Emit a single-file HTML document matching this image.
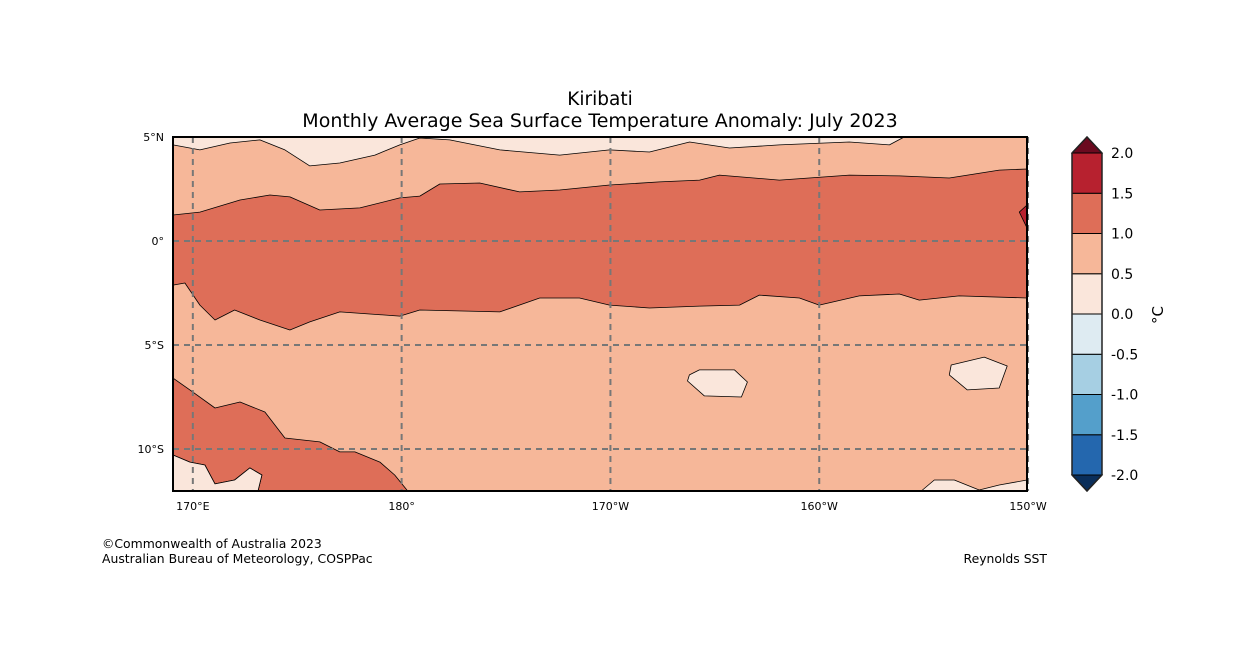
<!DOCTYPE html>
<html><head><meta charset="utf-8"><style>
body{margin:0;background:#fff;}
svg{display:block;font-family:"DejaVu Sans","Liberation Sans",sans-serif;}
</style></head><body>
<svg id="c" width="1258" height="667" viewBox="0 0 1258 667">
<text x="600" y="105" font-size="18.5" text-anchor="middle">Kiribati</text>
<text x="600" y="127" font-size="19" text-anchor="middle">Monthly Average Sea Surface Temperature Anomaly: July 2023</text>
<g id="map"></g>
<g id="cbar"></g>
<text x="102" y="548" font-size="12.4">©Commonwealth of Australia 2023</text>
<text x="102" y="563" font-size="12.4">Australian Bureau of Meteorology, COSPPac</text>
<text x="1047" y="563" font-size="12.4" text-anchor="end">Reynolds SST</text>
</svg>
<script>
const lonTicks=[170,180,190,200,210];
const lonLabels=["170°E","180°","170°W","160°W","150°W"];
const latTicks=[5,0,-5,-10];
const latLabels=["5°N","0°","5°S","10°S"];
const levels=[-2.0,-1.5,-1.0,-0.5,0.0,0.5,1.0,1.5,2.0];
const levelColors=["#2467ae","#549fcb","#a6cfe3","#deebf2","#fae6db","#f6b799","#de6e58","#b7212f"];
const underColor="#0a2e5a", overColor="#6b0a1f";
const topWhiteLon=[169.05,170.34,171.78,173.21,174.41,175.6,177.04,178.72,179.91,180.87,182.3,184.7,187.57,189.96,191.87,193.79,195.7,198.09,201.44,203.36,204.07];
const topWhiteLat=[4.62,4.38,4.71,4.86,4.38,3.61,3.75,4.13,4.62,4.95,4.86,4.38,4.13,4.38,4.28,4.76,4.47,4.62,4.76,4.62,5.0];
const northLon=[169.05,170.34,172.26,173.69,174.65,176.08,178.0,179.91,180.87,181.83,183.74,185.65,187.57,189.96,192.35,194.27,195.22,198.09,201.44,203.84,206.23,208.62,209.95];
const northLat=[1.25,1.39,1.97,2.21,2.12,1.49,1.59,2.07,2.16,2.74,2.79,2.36,2.45,2.69,2.84,2.93,3.17,2.93,3.17,3.13,3.03,3.41,3.46];
const southLon=[169.05,169.62,170.34,171.06,172.0,173.21,174.65,175.6,177.04,179.91,180.87,184.7,186.61,188.52,189.96,191.87,194.27,196.18,197.13,199.05,200.0,201.92,203.84,204.79,206.7,209.95];
const southLat=[-2.12,-2.02,-3.08,-3.8,-3.32,-3.8,-4.28,-3.89,-3.41,-3.61,-3.32,-3.41,-2.74,-2.74,-3.08,-3.22,-3.13,-3.08,-2.6,-2.74,-3.08,-2.64,-2.55,-2.84,-2.64,-2.74];
const swRedLon=[169.05,169.86,171.06,172.26,173.45,174.41,176.08,177.04,177.76,178.96,179.67,180.29];
const swRedLat=[-6.59,-7.16,-8.03,-7.74,-8.22,-9.47,-9.66,-10.14,-10.14,-10.63,-11.25,-12.02];
const swWhiteLon=[169.05,169.86,170.58,171.06,172.0,172.73,173.31,173.12];
const swWhiteLat=[-10.29,-10.63,-10.77,-11.68,-11.49,-10.91,-11.25,-12.02];
const seWhiteLon=[204.89,205.51,206.47,207.66,208.62,209.95];
const seWhiteLat=[-12.02,-11.49,-11.49,-11.97,-11.73,-11.49];
const blob1Lon=[193.78,194.26,195.94,196.56,196.27,194.5,193.69];
const blob1Lat=[-6.44,-6.2,-6.2,-6.78,-7.5,-7.45,-6.73];
const blob2Lon=[206.32,207.9,209.0,208.62,207.09,206.23];
const blob2Lat=[-5.96,-5.58,-6.01,-7.07,-7.16,-6.44];
const eRedLon=[209.95,209.58,209.95];
const eRedLat=[1.73,1.39,0.63];

const NS="http://www.w3.org/2000/svg";
const X0=173,X1=1027,Y0=137,Y1=491;
const lonMin=169.05,lonMax=209.95,latMin=-12.02,latMax=5;
const xs=l=>X0+(l-lonMin)/(lonMax-lonMin)*(X1-X0);
const ys=l=>Y0+(latMax-l)/(latMax-latMin)*(Y1-Y0);
function mk(tag,parent,attrs){const e=document.createElementNS(NS,tag);for(const k in attrs)e.setAttribute(k,attrs[k]);parent.appendChild(e);return e;}
function pts(lo,la){return lo.map((v,i)=>xs(v).toFixed(1)+","+ys(la[i]).toFixed(1));}
const map=document.getElementById('map');
mk('rect',map,{x:X0,y:Y0,width:X1-X0,height:Y1-Y0,fill:levelColors[5]});
function poly(p,fill,name){const e=mk('polygon',map,{points:p.join(' '),fill:fill,stroke:'#000','stroke-width':0.8,'stroke-linejoin':'round'});

}
poly(pts(topWhiteLon,topWhiteLat).concat([xs(lonMax)+","+ys(latMax),xs(lonMin)+","+ys(latMax)]),levelColors[4],'band-0-0.5-north');
poly(pts(northLon,northLat).concat(pts(southLon.slice().reverse(),southLat.slice().reverse())),levelColors[6],'band-1.0-1.5-equatorial');
poly(pts(eRedLon,eRedLat),levelColors[7],'band-1.5-2.0-east');
poly(pts(swRedLon,swRedLat).concat(pts(swWhiteLon.slice().reverse(),swWhiteLat.slice().reverse())),levelColors[6],'band-1.0-1.5-southwest');
poly(pts(swWhiteLon,swWhiteLat).concat([xs(lonMin)+","+ys(latMin)]),levelColors[4],'band-0-0.5-southwest');
poly(pts(seWhiteLon,seWhiteLat).concat([xs(lonMax)+","+ys(latMin)]),levelColors[4],'band-0-0.5-southeast');
poly(pts(blob1Lon,blob1Lat),levelColors[4],'band-0-0.5-blob1');
poly(pts(blob2Lon,blob2Lat),levelColors[4],'band-0-0.5-blob2');
lonTicks.forEach((t,i)=>{const x=xs(t);
 const g=mk('line',map,{x1:x,x2:x,y1:Y0,y2:Y1,stroke:'#777','stroke-width':2,'stroke-dasharray':'6,5'});
 
 
 const tx=mk('text',map,{x:x,y:Y1+19,'font-size':11,'text-anchor':'middle'});tx.textContent=lonLabels[i];
 
 });
latTicks.forEach((t,i)=>{const y=ys(t);
 if(t<5){const g=mk('line',map,{x1:X0,x2:X1,y1:y,y2:y,stroke:'#777','stroke-width':2,'stroke-dasharray':'6,5'});
 
 }
 const tx=mk('text',map,{x:X0-9,y:y+4,'font-size':11,'text-anchor':'end'});tx.textContent=latLabels[i];
 
 });
const fr=mk('rect',map,{x:X0,y:Y0,width:X1-X0,height:Y1-Y0,fill:'none',stroke:'#000','stroke-width':2});


const cb=document.getElementById('cbar');
const CX=1072,CW=30,CT=153,CB=475;
const cy=v=>CB-(v-levels[0])/(levels[levels.length-1]-levels[0])*(CB-CT);
levelColors.forEach((c,i)=>{const r=mk('rect',cb,{x:CX,y:cy(levels[i+1]),width:CW,height:cy(levels[i])-cy(levels[i+1]),fill:c,stroke:'#000','stroke-width':1});
 
 });
const tu=mk('polygon',cb,{points:`${CX},${CT} ${CX+CW/2},${CT-16} ${CX+CW},${CT}`,fill:overColor,stroke:'#000'});


const td=mk('polygon',cb,{points:`${CX},${CB} ${CX+CW/2},${CB+16} ${CX+CW},${CB}`,fill:underColor,stroke:'#000'});


const ol=mk('polygon',cb,{points:`${CX},${CT} ${CX+CW/2},${CT-16} ${CX+CW},${CT} ${CX+CW},${CB} ${CX+CW/2},${CB+16} ${CX},${CB}`,fill:'none',stroke:'#222','stroke-width':1.5});


levels.forEach(v=>{const t=mk('text',cb,{x:CX+39,y:cy(v)+5,'font-size':14});t.textContent=v.toFixed(1);
 
 });
const u=mk('text',cb,{x:1163,y:315,'font-size':15,'text-anchor':'middle',transform:'rotate(-90 1163 315)'});u.textContent='°C';


</script>
</body></html>
